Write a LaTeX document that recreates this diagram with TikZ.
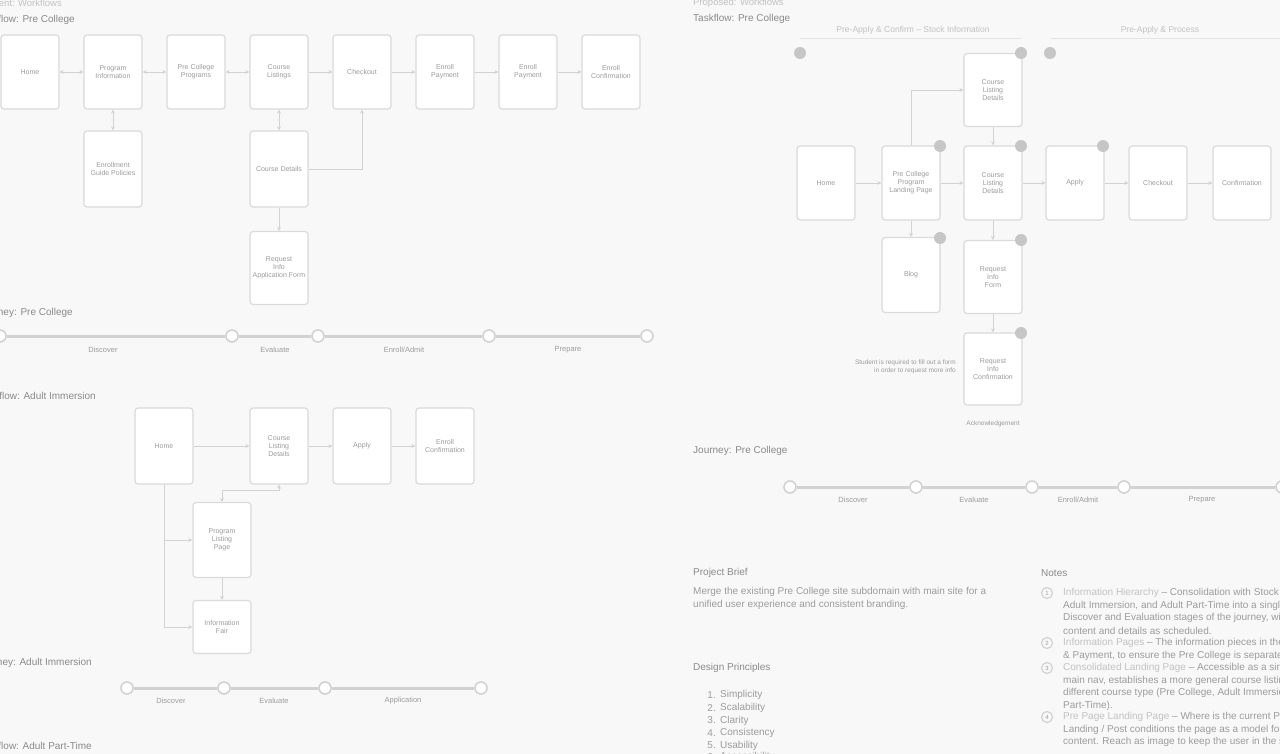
\documentclass[tikz,border=0pt]{standalone}
\usepackage{fontspec}
\setmainfont{Liberation Sans}
\usetikzlibrary{arrows.meta}
\definecolor{paper}{HTML}{F8F8F8}
\definecolor{ink}{HTML}{9C9C9C}
\definecolor{headink}{HTML}{8A8A8A}
\definecolor{leadink}{HTML}{C2C2C2}
\definecolor{rule}{HTML}{D2D2D2}
\definecolor{boxline}{HTML}{DADADA}
\definecolor{badgefill}{HTML}{C6C6C6}
\tikzset{
  card/.style={draw=boxline, line width=1.2pt, rounded corners=3pt, fill=white,
    minimum width=58pt, minimum height=74pt, align=center, inner sep=2pt,
    font=\fontsize{7}{8}\selectfont, text=ink},
  flow/.style={draw=rule, line width=0.8pt, -{Stealth[length=4pt,width=4pt]}},
  twoway/.style={draw=rule, line width=0.8pt, {Stealth[length=4pt,width=4pt]}-{Stealth[length=4pt,width=4pt]}},
  track/.style={draw=rule, line width=3pt},
  stop/.style={circle, draw=rule, line width=1.6pt, fill=white, minimum size=12pt, inner sep=0pt},
  stagelabel/.style={font=\fontsize{7.5}{8}\selectfont, text=ink},
  badge/.style={circle, fill=badgefill, minimum size=12pt, inner sep=0pt},
  heading/.style={font=\fontsize{10}{11}\selectfont, text=headink, inner sep=0pt},
  toplabel/.style={font=\fontsize{9.5}{10}\selectfont, text=leadink, inner sep=0pt},
  colhead/.style={font=\fontsize{8.5}{9}\selectfont, text=leadink, inner sep=0pt},
  bodytext/.style={font=\fontsize{10}{12}\selectfont, text=ink, anchor=west, inner sep=0pt},
  notemark/.style={circle, draw=rule, line width=1.2pt, minimum size=11pt, inner sep=0pt,
    font=\fontsize{6}{6}\selectfont, text=ink},
  aside/.style={font=\fontsize{6.5}{7.5}\selectfont, text=ink, align=right, inner sep=0pt},
}
\begin{document}
\begin{tikzpicture}[x=1pt, y=-1pt]
\useasboundingbox (0,0) rectangle (1280,754);
\fill[paper] (0,0) rectangle (1280,754);

% ---------------- current taskflows (left column) ----------------
\node[toplabel, anchor=east] (curhead) at (62,3) {Current: Workflows};
\node[heading, anchor=east] (pcflowtitle) at (75,20) {Taskflow: Pre College};

\node[card] (pa) at (30,72) {Home};
\node[card] (pb) at (113,72) {Program\\Information};
\node[card] (pc) at (196,72) {Pre College\\Programs};
\node[card] (pd) at (279,72) {Course\\Listings};
\node[card] (pe) at (362,72) {Checkout};
\node[card] (pf) at (445,72) {Enroll\\Payment};
\node[card] (pg) at (528,72) {Enroll\\Payment};
\node[card] (ph) at (611,72) {Enroll\\Confirmation};
\node[card, minimum height=76pt] (pbx) at (113,169) {Enrollment\\Guide Policies};
\node[card, minimum height=76pt] (pdx) at (279,169) {Course Details};
\node[card, minimum height=73pt] (pdy) at (279,268) {Request\\Info\\Application Form};

\draw[twoway] (pa) -- (pb);
\draw[twoway] (pb) -- (pc);
\draw[twoway] (pc) -- (pd);
\draw[flow] (pd) -- (pe);
\draw[flow] (pe) -- (pf);
\draw[flow] (pf) -- (pg);
\draw[flow] (pg) -- (ph);
\draw[twoway] (pb) -- (pbx);
\draw[twoway] (pd) -- (pdx);
\draw[flow] (pdx) -- (pdy);
\draw[flow] (pdx.east) -| (pe.south);

% journey: pre college (current)
\node[heading, anchor=east] (pcjourneytitle) at (73,313) {Journey: Pre College};
\node[stop] (j1) at (0,336) {};
\node[stop] (j2) at (232,336) {};
\node[stop] (j3) at (318,336) {};
\node[stop] (j4) at (489,336) {};
\node[stop] (j5) at (647,336) {};
\draw[track] (j1) -- (j2);
\draw[track] (j2) -- (j3);
\draw[track] (j3) -- (j4);
\draw[track] (j4) -- (j5);
\node[stagelabel] (js1) at (103,350) {Discover};
\node[stagelabel] (js2) at (275,350) {Evaluate};
\node[stagelabel] (js3) at (404,350) {Enroll/Admit};
\node[stagelabel] (js4) at (568,350) {Prepare};

% taskflow: adult immersion
\node[heading, anchor=east] (aiflowtitle) at (96,396) {Taskflow: Adult Immersion};
\node[card, minimum height=76pt] (aa) at (164,446) {Home};
\node[card, minimum height=76pt] (ab) at (279,446) {Course\\Listing\\Details};
\node[card, minimum height=76pt] (ac) at (362,446) {Apply};
\node[card, minimum height=76pt] (ad) at (445,446) {Enroll\\Confirmation};
\node[card, minimum height=75pt] (ae) at (222,540) {Program\\Listing\\Page};
\node[card, minimum height=53pt] (af) at (222,627) {Information\\Fair};

\draw[flow] (aa) -- (ab);
\draw[flow] (ab) -- (ac);
\draw[flow] (ac) -- (ad);
\draw[flow] (aa.south) |- (ae.west);
\draw[flow] (aa.south) |- (af.west);
\draw[twoway] (ae.north) -- (ae.north |- 0,490) -| (ab.south);
\draw[flow] (ae) -- (af);

% journey: adult immersion
\node[heading, anchor=east] (aijourneytitle) at (92,663) {Journey: Adult Immersion};
\node[stop] (k1) at (127,688) {};
\node[stop] (k2) at (224,688) {};
\node[stop] (k3) at (325,688) {};
\node[stop] (k4) at (481,688) {};
\draw[track] (k1) -- (k2);
\draw[track] (k2) -- (k3);
\draw[track] (k3) -- (k4);
\node[stagelabel] (ks1) at (171,701) {Discover};
\node[stagelabel] (ks2) at (274,701) {Evaluate};
\node[stagelabel] (ks3) at (403,701) {Application};

\node[heading, anchor=east] (ptflowtitle) at (92,746) {Taskflow: Adult Part-Time};

% ---------------- proposed taskflow (right column) ----------------
\node[toplabel, anchor=west] (prohead) at (693,3) {Proposed: Workflows};
\node[heading, anchor=west] (rflowtitle) at (693,19) {Taskflow: Pre College};

\node[colhead] (colA) at (913,30) {Pre-Apply \& Confirm -- Stock Information};
\node[colhead] (colB) at (1160,30) {Pre-Apply \& Process};
\draw[draw=rule!60, line width=0.6pt] (colA.south -| 800,0) ++(0,4) coordinate (ca1) -- (ca1 -| 1021,0);
\draw[draw=rule!60, line width=0.6pt] (colB.south -| 1050,0) ++(0,4) coordinate (cb1) -- (cb1 -| 1280,0);

\node[card] (ra) at (826,183) {Home};
\node[card] (rb) at (911,183) {Pre College\\Program\\Landing Page};
\node[card] (rc) at (993,183) {Course\\Listing\\Details};
\node[card] (rd) at (1075,183) {Apply};
\node[card] (re) at (1158,183) {Checkout};
\node[card] (rf) at (1242,183) {Confirmation};
\node[card, minimum height=73pt] (rg) at (993,90) {Course\\Listing\\Details};
\node[card, minimum height=75pt] (rh) at (911,275) {Blog};
\node[card, minimum height=73pt] (ri) at (993,277) {Request\\Info\\Form};
\node[card, minimum height=72pt] (rj) at (993,369) {Request\\Info\\Confirmation};

\draw[flow] (ra) -- (rb);
\draw[flow] (rb) -- (rc);
\draw[flow] (rc) -- (rd);
\draw[flow] (rd) -- (re);
\draw[flow] (re) -- (rf);
\draw[flow] (rb.north) |- (rg.west);
\draw[flow] (rg) -- (rc);
\draw[flow] (rb) -- (rh);
\draw[flow] (rc) -- (ri);
\draw[flow] (ri) -- (rj);

\node[aside, anchor=east] (rjnote) at (956,367) {Student is required to fill out a form\\in order to request more info};
\node[aside] (rjfoot) at (993,424) {Acknowledgement};

% note badges
\node[badge] (b1) at (800,53) {};
\node[badge] (b2) at (1021,53) {};
\node[badge] (b3) at (1050,53) {};
\node[badge] (b4) at (940,146) {};
\node[badge] (b5) at (1021,146) {};
\node[badge] (b6) at (1103,146) {};
\node[badge] (b7) at (940,238) {};
\node[badge] (b8) at (1021,240) {};
\node[badge] (b9) at (1021,333) {};

% journey: pre college (proposed)
\node[heading, anchor=west] (rjourneytitle) at (693,451) {Journey: Pre College};
\node[stop] (m1) at (790,487) {};
\node[stop] (m2) at (916,487) {};
\node[stop] (m3) at (1032,487) {};
\node[stop] (m4) at (1124,487) {};
\node[stop] (m5) at (1282,487) {};
\draw[track] (m1) -- (m2);
\draw[track] (m2) -- (m3);
\draw[track] (m3) -- (m4);
\draw[track] (m4) -- (m5);
\node[stagelabel] (ms1) at (853,500) {Discover};
\node[stagelabel] (ms2) at (974,500) {Evaluate};
\node[stagelabel] (ms3) at (1078,500) {Enroll/Admit};
\node[stagelabel] (ms4) at (1202,500) {Prepare};

% project brief
\node[heading, anchor=west] (brieftitle) at (693,573) {Project Brief};
\node[bodytext] (brief1) at (693,592) {Merge the existing Pre College site subdomain with main site for a};
\node[bodytext] (brief2) at (693,605) {unified user experience and consistent branding.};

% design principles
\node[heading, anchor=west] (princtitle) at (693,668) {Design Principles};
\foreach \n/\w [count=\i] in {695/Simplicity,708/Scalability,720.5/Clarity,733/Consistency,745.5/Usability,757/Accessibility}{
  \node[bodytext, anchor=east] (pn\i) at (716,\n) {\i.};
  \node[bodytext] (pw\i) at (720,\n) {\w};
}

% notes
\node[heading, anchor=west] (notestitle) at (1041,573) {Notes};
\node[notemark] (n1) at (1047,593) {1};
\node[bodytext] (n1a) at (1063,593) {{\color{leadink}Information Hierarchy} -- Consolidation with Stock Programs,};
\node[bodytext] (n1b) at (1063,605.5) {Adult Immersion, and Adult Part-Time into a single landing page};
\node[bodytext] (n1c) at (1063,618) {Discover and Evaluation stages of the journey, with program};
\node[bodytext] (n1d) at (1063,630.5) {content and details as scheduled.};
\node[notemark] (n2) at (1047,643) {2};
\node[bodytext] (n2a) at (1063,643) {{\color{leadink}Information Pages} -- The information pieces in the Enroll};
\node[bodytext] (n2b) at (1063,655.5) {\& Payment, to ensure the Pre College is separated from others};
\node[notemark] (n3) at (1047,668) {3};
\node[bodytext] (n3a) at (1063,668) {{\color{leadink}Consolidated Landing Page} -- Accessible as a single link};
\node[bodytext] (n3b) at (1063,680.5) {main nav, establishes a more general course listing page for};
\node[bodytext] (n3c) at (1063,693) {different course type (Pre College, Adult Immersion, and Adult};
\node[bodytext] (n3d) at (1063,705.5) {Part-Time).};
\node[notemark] (n4) at (1047,717) {4};
\node[bodytext] (n4a) at (1063,717) {{\color{leadink}Pre Page Landing Page} -- Where is the current Pre College};
\node[bodytext] (n4b) at (1063,729.5) {Landing / Post conditions the page as a model for programs};
\node[bodytext] (n4c) at (1063,742) {content. Reach as image to keep the user in the site flow for};
\end{tikzpicture}
\end{document}
